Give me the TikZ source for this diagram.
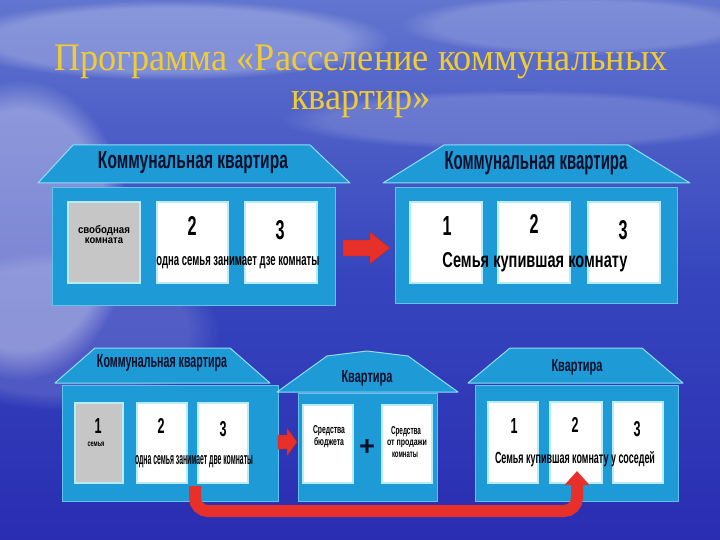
\documentclass[tikz,border=0pt]{standalone}
\usepackage{fontspec}
\setmainfont{Liberation Serif}
\newfontfamily\lsans{Liberation Sans}
\usetikzlibrary{arrows.meta,fadings}
\definecolor{skytop}{HTML}{6275CF}
\definecolor{skymid}{HTML}{3646BE}
\definecolor{seabot}{HTML}{2A2DB2}
\definecolor{house}{HTML}{1E9AD6}
\definecolor{houseedge}{HTML}{8FDDF7}
\definecolor{roomedge}{HTML}{B8ECFA}
\definecolor{gold}{HTML}{F0CC34}
\definecolor{navy}{HTML}{0A0F2A}
\definecolor{arrowred}{HTML}{E8302A}
\newcommand\fb[3]{\resizebox{#1pt}{#2pt}{\lsans\bfseries #3}}
\tikzset{
  txt/.style={inner sep=0pt},
  roofttl/.style={inner sep=0pt, text=navy},
  body/.style={fill=house, draw=houseedge!60!house, line width=0.8pt, inner sep=0pt},
  roof/.style={fill=house, draw=houseedge, line width=1pt, line join=round},
  room/.style={fill=white, draw=roomedge, line width=1.6pt, inner sep=0pt},
  grayroom/.style={fill=gray!45, draw=roomedge, line width=1.6pt, inner sep=0pt},
  blockarrow/.style={fill=arrowred, draw=arrowred!80!black, line width=0.4pt},
  haze/.style={fill=white, path fading=circle with fuzzy edge 20 percent},
}
\begin{document}
\begin{tikzpicture}[x=1pt,y=-1pt]
\useasboundingbox (0,0) rectangle (720,540);
% background
\shade[top color=skytop, bottom color=seabot, middle color=skymid] (0,0) rectangle (720,540);
\fill[haze,opacity=0.25] (170,40) ellipse [x radius=220, y radius=40];
\fill[haze,opacity=0.18] (580,25) ellipse [x radius=180, y radius=30];
\fill[haze,opacity=0.15] (520,120) ellipse [x radius=240, y radius=30];
\fill[haze,opacity=0.35] (20,230) ellipse [x radius=110, y radius=150];
\fill[haze,opacity=0.15] (60,330) ellipse [x radius=160, y radius=80];
% title
\node[txt,text=gold] (title1) at (361,62) {\scalebox{0.93}[1]{\fontsize{39}{39}\selectfont Программа «Расселение коммунальных}};
\node[txt,text=gold] (title2) at (361,104) {\scalebox{0.93}[1]{\fontsize{39}{39}\selectfont квартир»}};
% ---------- house 1 (top left)
\fill[roof] (73,145) -- (310,145) -- (350,183) -- (38,183) -- cycle;
\node[body, minimum width=283pt, minimum height=118pt] (b1) at (193.5,246) {};
\node[grayroom, minimum width=72pt, minimum height=81pt] (r11) at (104,242.5) {};
\node[room, minimum width=71pt, minimum height=81pt] (r12) at (192.5,242.5) {};
\node[room, minimum width=72pt, minimum height=81pt] (r13) at (281,242.5) {};
\node[roofttl] (t1) at (193,163) {\fb{190}{17}{Коммунальная квартира}};
\node[txt] (s11) at (104,231) {\fb{52}{8}{свободная}};
\node[txt] (s12) at (104,241) {\fb{38}{5.7}{комната}};
\node[txt] (n12) at (192,226) {\fb{9}{19}{2}};
\node[txt] (n13) at (280,230) {\fb{9}{19}{3}};
\node[txt] (d1) at (238,263) {\fb{163}{9}{одна семья занимает дзе комнаты}};
% ---------- house 2 (top right)
\fill[roof] (444,145) -- (628,145) -- (690,183) -- (383,183) -- cycle;
\node[body, minimum width=282pt, minimum height=116pt] (b2) at (536,245) {};
\node[room, minimum width=72pt, minimum height=81pt] (r21) at (446,242.5) {};
\node[room, minimum width=72pt, minimum height=81pt] (r22) at (534,242.5) {};
\node[room, minimum width=72pt, minimum height=81pt] (r23) at (624,242.5) {};
\node[roofttl] (t2) at (536,163) {\fb{183}{18}{Коммунальная квартира}};
\node[txt] (n21) at (447,226) {\fb{9}{19}{1}};
\node[txt] (n22) at (534,224) {\fb{9}{19}{2}};
\node[txt] (n23) at (623,230) {\fb{9}{19}{3}};
\node[txt] (d2) at (535,262) {\fb{185}{15}{Семья купившая комнату}};
% top arrow
\fill[blockarrow] (343,240) -- (370,240) -- (370,232) -- (390,248) -- (370,264) -- (370,256) -- (343,256) -- cycle;
% ---------- house 3 (bottom left)
\fill[roof] (95,348) -- (230,348) -- (270,383) -- (55,383) -- cycle;
\node[body, minimum width=216pt, minimum height=116pt] (b3) at (170,443) {};
\node[grayroom, minimum width=48pt, minimum height=80pt] (r31) at (99,443) {};
\node[room, minimum width=50pt, minimum height=80pt] (r32) at (162,443) {};
\node[room, minimum width=50pt, minimum height=80pt] (r33) at (223,443) {};
\node[roofttl] (t3) at (162,363) {\fb{130}{13}{Коммунальная квартира}};
\node[txt] (n31) at (98,426) {\fb{7}{15}{1}};
\node[txt] (s31) at (96,444) {\fb{17}{4.5}{семья}};
\node[txt] (n32) at (161,426) {\fb{7}{15}{2}};
\node[txt] (n33) at (223,429) {\fb{7}{15}{3}};
\node[txt] (d3) at (194,462) {\fb{118}{9}{одна семья занимает две комнаты}};
% ---------- house 4 (middle)
\fill[roof] (277,392) -- (327,356) -- (367,351) -- (408,356) -- (458,392) -- cycle;
\node[body, minimum width=139pt, minimum height=108pt] (b4) at (367.5,447) {};
\node[room, minimum width=50pt, minimum height=78pt] (r41) at (328,444) {};
\node[room, minimum width=50pt, minimum height=78pt] (r42) at (407,444) {};
\node[roofttl] (t4) at (367,378) {\fb{51}{12}{Квартира}};
\node[txt] (s41) at (329,431) {\fb{32}{8}{Средства}};
\node[txt] (s42) at (329,443) {\fb{30}{8}{бюджета}};
\node[txt] (s43) at (406,432) {\fb{30}{8}{Средства}};
\node[txt] (s44) at (407,444) {\fb{40}{5.5}{от продажи}};
\node[txt] (s45) at (405,455) {\fb{26}{5.5}{комнаты}};
\node[txt,text=navy] (plus) at (367,447) {\fb{16}{16}{+}};
% small arrow
\fill[blockarrow] (278,435) -- (287,435) -- (287,428) -- (297,442) -- (287,456) -- (287,449) -- (278,449) -- cycle;
% ---------- house 5 (bottom right)
\fill[roof] (510,348) -- (642,348) -- (683,383) -- (468,383) -- cycle;
\node[body, minimum width=203pt, minimum height=116pt] (b5) at (576.5,443) {};
\node[room, minimum width=50pt, minimum height=81pt] (r51) at (513,442.5) {};
\node[room, minimum width=52pt, minimum height=81pt] (r52) at (576,442.5) {};
\node[room, minimum width=50pt, minimum height=81pt] (r53) at (638,442.5) {};
\node[roofttl] (t5) at (577,367) {\fb{51}{12}{Квартира}};
\node[txt] (n51) at (514,426) {\fb{7}{15}{1}};
\node[txt] (n52) at (575,425) {\fb{7}{15}{2}};
\node[txt] (n53) at (637,429) {\fb{7}{15}{3}};
\node[txt] (d5) at (575,459) {\fb{160}{12}{Семья купившая комнату у соседей}};
% ---------- long red arrow
\coordinate (la) at (195,486);
\coordinate (lb) at (577,471);
\draw[arrowred, line width=12pt, rounded corners=13pt, -{Triangle[width=24pt,length=14pt]}]
  (la) -- (195,511) -- (577,511) -- (lb);
\end{tikzpicture}
\end{document}
